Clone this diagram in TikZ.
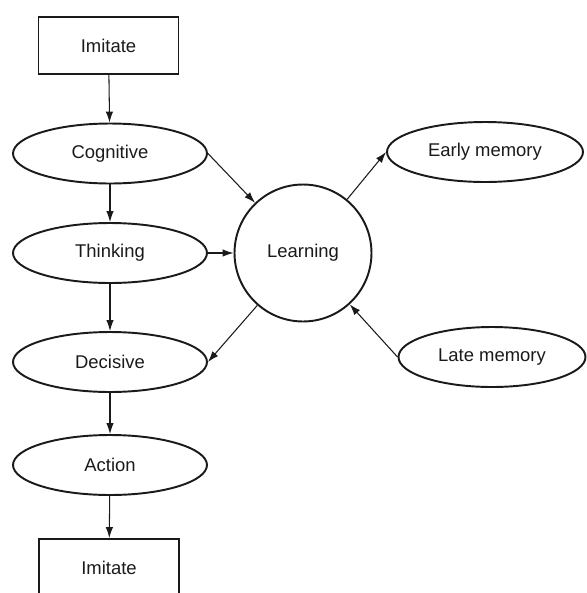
\documentclass[tikz,border=0pt]{standalone}
\usepackage{fontspec}
\setmainfont{Liberation Sans}
\usetikzlibrary{arrows.meta,shapes.geometric}
\definecolor{lmInk}{HTML}{1A1A1A}
\tikzset{
  lm base/.style={draw=lmInk, line width=1.1pt, text=lmInk,
    font=\fontsize{10.5}{12}\selectfont, inner sep=0pt},
  lm box/.style={lm base, rectangle, minimum width=2.8cm, minimum height=1.14cm},
  lm oval/.style={lm base, ellipse, minimum width=3.88cm, minimum height=1.2cm},
  lm side oval/.style={lm base, ellipse, minimum width=3.92cm, minimum height=1.2cm},
  lm hub/.style={lm base, circle, minimum size=2.74cm},
  lm arrow/.style={draw=lmInk, line width=.6pt,
    -{Latex[length=2.2mm,width=1.5mm]}}
}
\begin{document}
\begin{tikzpicture}[x=.02cm,y=-.02cm]
  \useasboundingbox (0,0) rectangle (587,593);
  \clip (0,0) rectangle (587,593);

  % left column
  \node[lm box]  (imitateTop) at (108.5,45.5) {Imitate};
  \node[lm oval] (cognitive)  at (110,153.5) {Cognitive};
  \node[lm oval] (thinking)   at (110,253) {Thinking};
  \node[lm oval] (decisive)   at (110,362) {Decisive};
  \node[lm oval] (action)     at (110,465) {Action};
  \node[lm box]  (imitateBot) at (109,567.5) {Imitate};

  % hub and memories
  \node[lm hub]       (learning) at (303,253) {Learning};
  \node[lm side oval] (earlyMem) at (485,152) {Early memory};
  \node[lm side oval, minimum width=3.74cm] (lateMem) at (492,357) {Late memory};

  \draw[lm arrow] (imitateTop) -- (cognitive);
  \draw[lm arrow] (cognitive) -- (thinking);
  \draw[lm arrow] (thinking) -- (decisive);
  \draw[lm arrow] (decisive) -- (action);
  \draw[lm arrow] (action) -- (imitateBot);

  \draw[lm arrow] (cognitive.east) -- (learning);
  \draw[lm arrow] (thinking) -- (learning);
  \draw[lm arrow] (learning) -- (decisive.east);
  \draw[lm arrow] (learning) -- (earlyMem.west);
  \draw[lm arrow] (lateMem.west) -- (learning);
\end{tikzpicture}
\end{document}
